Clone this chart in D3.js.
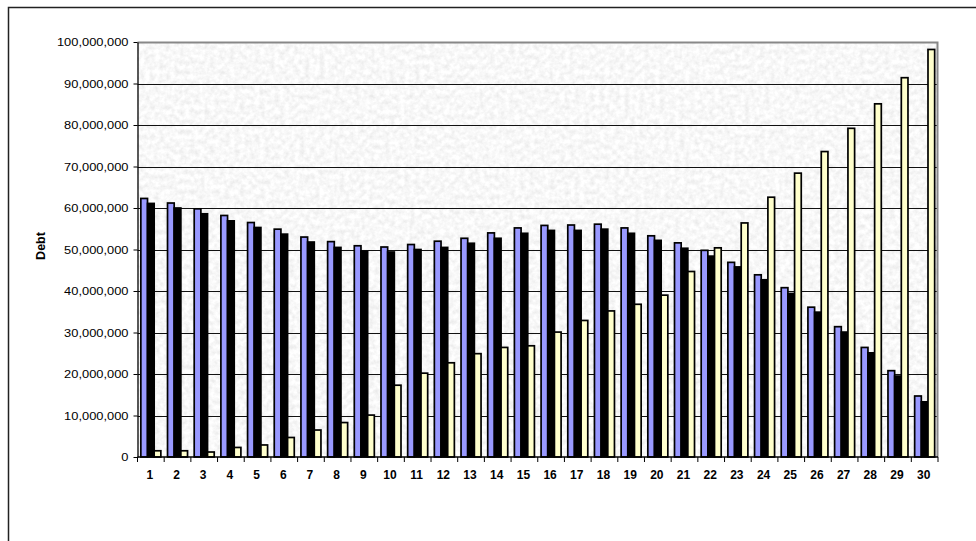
<!DOCTYPE html>
<html>
<head>
<meta charset="utf-8">
<script src="https://cdn.jsdelivr.net/npm/d3@7"></script>
<style>
  html, body { margin: 0; padding: 0; background: #fff; overflow: hidden; }
  svg { display: block; }
  text { font-family: Arial, "Liberation Sans", sans-serif; fill: #000; }
</style>
</head>
<body>
<svg id="chart" width="976" height="541"></svg>
<script>
// Years of the schedule
const categories = d3.range(1, 31).map(String);

// Debt balances per year, three scenarios
const seriesA = [62.3, 61.2, 59.8, 58.2, 56.5, 54.9, 53.0, 51.9, 50.9, 50.6,
                 51.2, 52.0, 52.7, 54.0, 55.2, 55.8, 55.9, 56.1, 55.2, 53.3,
                 51.6, 49.8, 46.9, 43.9, 40.8, 36.1, 31.4, 26.4, 20.8, 14.7].map(v => v * 1e6);
const seriesB = [61.1, 60.0, 58.6, 56.9, 55.3, 53.7, 51.8, 50.5, 49.6, 49.4,
                 50.0, 50.5, 51.5, 52.7, 53.9, 54.6, 54.6, 54.9, 53.9, 52.2,
                 50.3, 48.4, 45.8, 42.7, 39.4, 34.9, 30.1, 25.1, 19.5, 13.3].map(v => v * 1e6);
const seriesC = [1.5, 1.5, 1.2, 2.3, 2.9, 4.7, 6.5, 8.3, 10.1, 17.3,
                 20.2, 22.7, 24.9, 26.4, 26.8, 30.1, 32.9, 35.2, 36.8, 39.0,
                 44.7, 50.4, 56.4, 62.6, 68.4, 73.6, 79.2, 85.1, 91.4, 98.2].map(v => v * 1e6);

const seriesNames = ["A", "B", "C"];
const seriesColors = ["#9999ff", "#000000", "#ffffcc"];
const yTicks = d3.range(0, 100000001, 10000000);

const svg = d3.select("#chart");

// Chart frame: left and top edges sit inside the page
svg.append("path")
  .attr("d", "M8.5,541V7.5H976")
  .attr("fill", "none").attr("stroke", "#222").attr("stroke-width", 1.5);

const plot = { left: 137.5, right: 938, top: 42, bottom: 457 };

const x = d3.scaleBand().domain(categories).range([plot.left, plot.right]);
const xs = d3.scaleBand().domain(seriesNames).range([0, x.bandwidth()]).paddingOuter(0.5);
const y = d3.scaleLinear().domain([0, 100000000]).range([plot.bottom, plot.top]);

// Paper-like texture for the plot area
const defs = svg.append("defs");
const f = defs.append("filter").attr("id", "paper")
  .attr("filterUnits", "userSpaceOnUse")
  .attr("x", plot.left).attr("y", plot.top)
  .attr("width", plot.right - plot.left).attr("height", plot.bottom - plot.top);
f.append("feTurbulence").attr("type", "fractalNoise").attr("baseFrequency", "0.2")
  .attr("numOctaves", 3).attr("seed", 11).attr("result", "n");
f.append("feColorMatrix").attr("in", "n").attr("type", "matrix")
  .attr("values", "0.3 0 0 0 0.79  0.3 0 0 0 0.79  0.3 0 0 0 0.79  0 0 0 0 1");

svg.append("rect")
  .attr("x", plot.left).attr("y", plot.top)
  .attr("width", plot.right - plot.left).attr("height", plot.bottom - plot.top)
  .attr("fill", "#eee").attr("filter", "url(#paper)");

// Horizontal gridlines
svg.append("g").selectAll("line")
  .data(yTicks.filter(t => t > 0 && t < 100000000))
  .join("line")
  .attr("x1", plot.left).attr("x2", plot.right)
  .attr("y1", d => Math.round(y(d)) + 0.5).attr("y2", d => Math.round(y(d)) + 0.5)
  .attr("stroke", "#111").attr("stroke-width", 1);

// Top and right border of the plot area
svg.append("path")
  .attr("d", `M${plot.left},${plot.top + 0.5}H${plot.right - 0.5}V${plot.bottom}`)
  .attr("fill", "none").attr("stroke", "#888").attr("stroke-width", 2);

// Bars
const seriesData = [seriesA, seriesB, seriesC];
seriesData.forEach((vals, si) => {
  svg.append("g").selectAll("rect")
    .data(vals.map((v, i) => ({ cat: categories[i], v })))
    .join("rect")
    .attr("x", d => x(d.cat) + xs(seriesNames[si]))
    .attr("y", d => y(d.v))
    .attr("width", xs.bandwidth())
    .attr("height", d => y(0) - y(d.v))
    .attr("fill", seriesColors[si])
    .attr("stroke", "#000").attr("stroke-width", 1.7);
});

// Y axis
const yAxis = svg.append("g")
  .attr("transform", `translate(${plot.left},0)`)
  .call(d3.axisLeft(y).tickValues(yTicks).tickSize(4).tickSizeOuter(0)
    .tickFormat(d3.format(",")));
yAxis.select(".domain").attr("stroke", "#000").attr("stroke-width", 1.3);
yAxis.selectAll(".tick line").attr("stroke", "#000");
yAxis.selectAll(".tick text")
  .attr("font-size", 11).attr("x", 0).attr("dy", "0.35em")
  .attr("transform", "translate(-9,0) scale(1.17,1)")
  .attr("text-anchor", "end");

// X axis: ticks at category boundaries, labels centred on categories
const xAxisG = svg.append("g").attr("transform", `translate(0,${plot.bottom})`);
xAxisG.append("line")
  .attr("x1", plot.left).attr("x2", plot.right)
  .attr("stroke", "#000").attr("stroke-width", 1.3);
const boundaries = categories.map(c => x(c)).concat([x(categories[categories.length - 1]) + x.bandwidth()]);
xAxisG.selectAll("line.tk").data(boundaries).join("line").attr("class", "tk")
  .attr("x1", d => d).attr("x2", d => d).attr("y1", 0).attr("y2", 5)
  .attr("stroke", "#000");
xAxisG.selectAll("text").data(categories).join("text")
  .attr("x", d => x(d) + x.bandwidth() / 2 - 1)
  .attr("y", 22)
  .attr("text-anchor", "middle")
  .attr("font-size", 12).attr("font-weight", "bold")
  .text(d => d);

// Y axis title
svg.append("text")
  .attr("transform", "translate(45,246) rotate(-90)")
  .attr("text-anchor", "middle")
  .attr("font-size", 12.5).attr("font-weight", "bold")
  .text("Debt");
</script>
</body>
</html>
